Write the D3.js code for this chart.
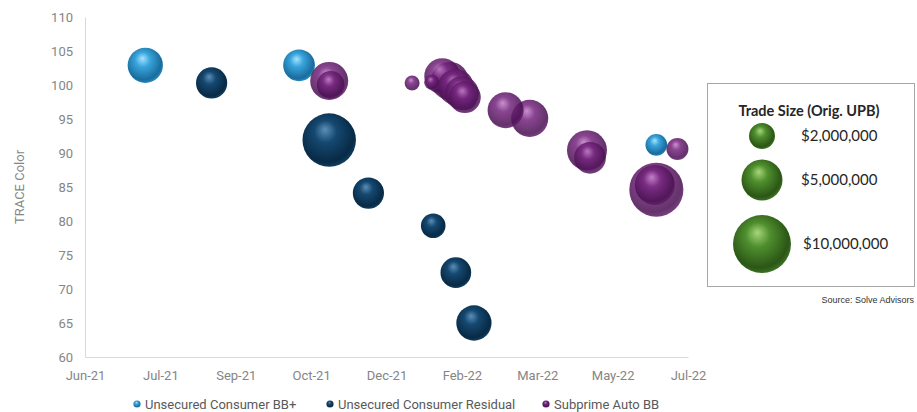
<!DOCTYPE html>
<html>
<head>
<meta charset="utf-8">
<script src="https://cdn.jsdelivr.net/npm/d3@7"></script>
<style>
  html, body { margin: 0; padding: 0; background: #fff; }
  svg { display: block; }
</style>
</head>
<body>
<svg id="chart" width="917" height="412"></svg>
<script>
// Trades: [trade date, TRACE color, original UPB in $ millions]
const bbPlus = [
  ["2021-07-11", 102.9, 3.7],
  ["2021-10-21", 102.9, 3.0],
  ["2022-02-09", 97.8, 1.2],
  ["2022-06-15", 91.2, 1.4]
];
const residual = [
  ["2021-08-24", 100.3, 2.9],
  ["2021-11-10", 91.9, 8.5],
  ["2021-12-06", 84.1, 2.9],
  ["2022-01-18", 79.3, 1.8],
  ["2022-02-02", 72.4, 2.8],
  ["2022-02-14", 65.0, 3.7]
];
const subprimeAuto = [
  ["2021-11-10", 100.6, 4.3],
  ["2021-11-11", 100.0, 2.3],
  ["2022-01-04", 100.3, 0.67],
  ["2022-01-17", 100.4, 0.67],
  ["2022-01-24", 101.3, 3.85],
  ["2022-01-29", 100.6, 4.3],
  ["2022-02-02", 99.7, 3.85],
  ["2022-02-06", 98.8, 3.4],
  ["2022-02-08", 98.2, 3.0],
  ["2022-03-07", 96.3, 3.85],
  ["2022-03-23", 95.1, 4.1],
  ["2022-04-30", 90.4, 4.76],
  ["2022-05-02", 89.3, 3.0],
  ["2022-06-15", 84.6, 8.7],
  ["2022-06-14", 85.3, 4.76],
  ["2022-06-29", 90.6, 1.44]
];

const seriesNames = ["Unsecured Consumer BB+", "Unsecured Consumer Residual", "Subprime Auto BB"];
const sizeLegendValues = [2, 5, 10];            // $ millions
const sizeLegendLabels = ["$2,000,000", "$5,000,000", "$10,000,000"];
const yTicks = [60, 65, 70, 75, 80, 85, 90, 95, 100, 105, 110];
const xStart = "2021-06-01", xEnd = "2022-07-06", xStepDays = 50;

const parse = d3.timeParse("%Y-%m-%d");
const svg = d3.select("#chart");

const x = d3.scaleTime().domain([parse(xStart), parse(xEnd)]).range([85, 688]);
const y = d3.scaleLinear().domain([60, 110]).range([357, 17]);
const r = d3.scaleSqrt().domain([0, 10]).range([0, 29]);

// gradient fills for the shaded bubbles
const palettes = {
  bb:   { hi: "#a6e4ff", mid: "#38a4dc", lo: "#1a6c9c", rim: "#2a8cc4" },
  res:  { hi: "#5b8fb8", mid: "#154870", lo: "#082a45", rim: "#123f62" },
  sub:  { hi: "#c17fc6", mid: "#76267f", lo: "#4a1152", rim: "#66206f" },
  size: { hi: "#a8d67a", mid: "#4f8f2e", lo: "#2b5616", rim: "#3f7524" }
};
const defs = svg.append("defs");
Object.entries(palettes).forEach(([k, p]) => {
  const g = defs.append("radialGradient").attr("id", "g-" + k)
    .attr("cx", "45%").attr("cy", "42%").attr("r", "60%")
    .attr("fx", "42%").attr("fy", "30%");
  g.append("stop").attr("offset", "0%").attr("stop-color", p.hi);
  g.append("stop").attr("offset", "35%").attr("stop-color", p.mid);
  g.append("stop").attr("offset", "85%").attr("stop-color", p.lo);
  g.append("stop").attr("offset", "100%").attr("stop-color", p.rim);
});

const font = "Roboto, 'Open Sans', sans-serif";
const grey = "#858585";

// axes
const yAxis = d3.axisLeft(y).tickValues(yTicks).tickSize(0).tickPadding(12);
svg.append("g").attr("transform", "translate(85,0)").call(yAxis)
  .call(g => g.select(".domain").attr("stroke", "#d9d9d9"))
  .call(g => g.selectAll("text").attr("font-family", font).attr("font-size", 13).attr("fill", grey));

const xTickVals = d3.range(0, 9).map(i => d3.timeDay.offset(parse(xStart), i * xStepDays));
const xAxis = d3.axisBottom(x).tickValues(xTickVals).tickFormat(d3.timeFormat("%b-%y")).tickSize(0).tickPadding(14);
svg.append("g").attr("transform", "translate(0,357)").call(xAxis)
  .call(g => g.select(".domain").attr("stroke", "#d9d9d9"))
  .call(g => g.selectAll("text").attr("font-family", font).attr("font-size", 13).attr("fill", grey));

svg.append("text")
  .attr("transform", "translate(24,187) rotate(-90)")
  .attr("text-anchor", "middle")
  .attr("font-family", font).attr("font-size", 13).attr("fill", grey)
  .text("TRACE Color");

// bubbles
const plot = svg.append("g");
function drawSeries(data, key, opacity) {
  const rows = data.map(d => ({ date: parse(d[0]), value: d[1], size: d[2] }))
    .sort((a, b) => b.size - a.size);
  plot.append("g").selectAll("circle").data(rows).join("circle")
    .attr("cx", d => x(d.date))
    .attr("cy", d => y(d.value))
    .attr("r", d => r(d.size))
    .attr("fill", "url(#g-" + key + ")")
    .attr("fill-opacity", opacity);
}
drawSeries(bbPlus, "bb", 1);
drawSeries(residual, "res", 1);
drawSeries(subprimeAuto, "sub", 0.86);

// bottom legend
const legendKeys = ["bb", "res", "sub"];
const legendX = [137, 330, 546];
const lg = svg.append("g");
seriesNames.forEach((name, i) => {
  lg.append("circle").attr("cx", legendX[i]).attr("cy", 404).attr("r", 3.6)
    .attr("fill", "url(#g-" + legendKeys[i] + ")");
  lg.append("text").attr("x", legendX[i] + 8).attr("y", 408.5)
    .attr("font-family", font).attr("font-size", 13).attr("fill", "#595959")
    .text(name);
});

// trade size legend box
const box = svg.append("g");
box.append("rect").attr("x", 707.5).attr("y", 83.5).attr("width", 207).attr("height", 203)
  .attr("fill", "#fff").attr("stroke", "#a6a6a6").attr("stroke-width", 1);
box.append("text").attr("x", 809).attr("y", 116).attr("text-anchor", "middle")
  .attr("font-family", "Lato, 'Open Sans', sans-serif").attr("font-weight", 700)
  .attr("font-size", 14.5).attr("fill", "#262626")
  .text("Trade Size (Orig. UPB)");
const sizeY = [136, 180, 244];
sizeLegendValues.forEach((v, i) => {
  box.append("circle").attr("cx", 762).attr("cy", sizeY[i]).attr("r", r(v))
    .attr("fill", "url(#g-size)");
  box.append("text").attr("x", i === 2 ? 803 : 801).attr("y", sizeY[i] + 5)
    .attr("font-family", "Lato, 'Open Sans', sans-serif").attr("font-size", 15)
    .attr("fill", "#262626").text(sizeLegendLabels[i]);
});
svg.append("text").attr("x", 914).attr("y", 303).attr("text-anchor", "end")
  .attr("font-family", "'Liberation Sans', Arial, sans-serif").attr("font-size", 9)
  .attr("fill", "#333").text("Source: Solve Advisors");
</script>
</body>
</html>
